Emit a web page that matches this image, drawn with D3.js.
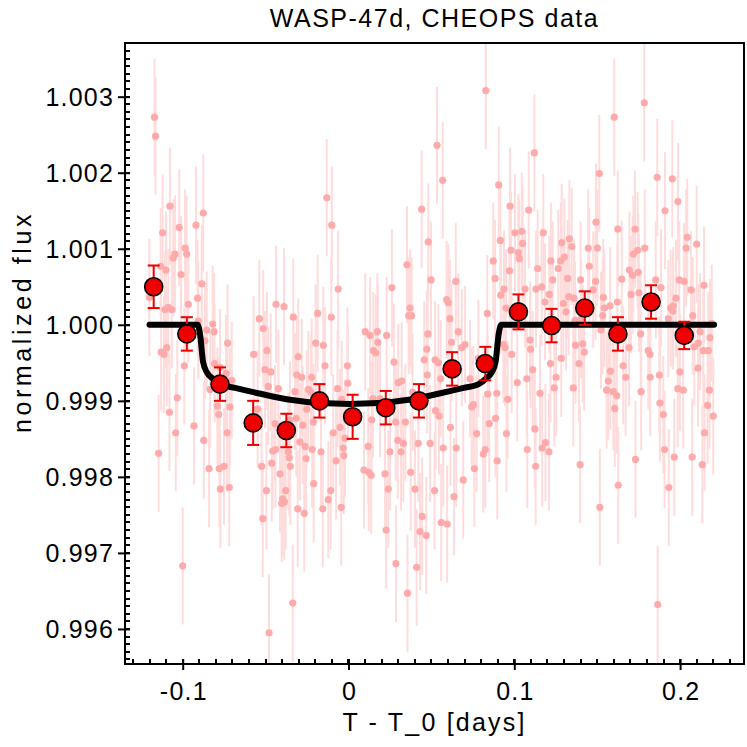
<!DOCTYPE html>
<html><head><meta charset="utf-8">
<script src="https://cdn.jsdelivr.net/npm/d3@7"></script>
<style>
body{margin:0;background:#fff}
svg{display:block}
text{font-family:"Liberation Sans",Arial,Helvetica,sans-serif;fill:#000}
</style>
</head><body>
<svg id="chart" width="747" height="747"></svg>
<script>
// ---------------- data ----------------
const rawTime = [
-0.1170,-0.1164,-0.1077,-0.0876,-0.1121,-0.1021,-0.0920,-0.0986,-0.0976,-0.1046,
-0.1057,-0.1133,-0.1101,-0.1010,-0.0885,-0.1201,-0.0910,-0.0966,-0.1087,-0.1107,
-0.1066,-0.0906,-0.0855,-0.0819,-0.0811,-0.0866,-0.0729,-0.1130,-0.1113,-0.1096,
-0.0990,-0.0808,-0.0775,-0.0739,-0.0704,-0.0835,-0.1033,-0.0715,-0.0791,-0.0783,
-0.1080,-0.0932,-0.1042,-0.0732,-0.0873,-0.1145,-0.0841,-0.0779,-0.0751,-0.0773,
-0.0719,-0.1000,
-0.0131,-0.0101,-0.0437,-0.0389,-0.0538,-0.0514,-0.0333,-0.0186,-0.0104,-0.0572,
-0.0492,-0.0303,-0.0198,-0.0152,-0.0504,-0.0469,-0.0142,-0.0484,-0.0423,-0.0312,
-0.0282,-0.0222,-0.0323,-0.0242,-0.0226,-0.0252,-0.0212,-0.0315,-0.0276,-0.0443,
-0.0353,-0.0548,-0.0092,-0.0457,-0.0440,-0.0363,-0.0293,-0.0262,-0.0219,-0.0166,
-0.0256,-0.0357,-0.0351,-0.0524,-0.0463,-0.0413,-0.0210,-0.0495,-0.0379,-0.0397,
-0.0403,-0.0387,-0.0306,-0.0267,-0.0155,-0.0122,-0.0107,-0.0517,-0.0336,-0.0479,
0.0441,0.0481,0.0353,-0.0062,0.0262,0.0371,0.0381,0.0363,0.0478,0.0101,
0.0130,0.0174,0.0230,0.0177,0.0150,0.0164,0.0472,-0.0007,0.0274,0.0457,
-0.0004,-0.0066,0.0300,0.0321,0.0475,0.0147,0.0190,0.0387,-0.0041,0.0140,
0.0285,0.0343,-0.0051,-0.0021,0.0119,0.0297,0.0331,0.0421,0.0492,-0.0031,
-0.0028,0.0250,0.0317,-0.0075,0.0093,0.0122,0.0137,0.0220,0.0240,0.0375,
0.0401,-0.0044,0.0444,0.0431,0.0469,0.0227,0.0286,0.0411,0.0356,
0.0828,0.0534,0.0568,0.0906,0.0974,0.1004,0.1045,0.0916,0.1050,0.1024,
0.1030,0.0980,0.0873,0.0971,0.0884,0.0498,0.0647,0.0938,0.0918,0.0592,
0.0602,0.0612,0.0837,0.0950,0.0662,0.0703,0.0683,0.0622,0.0944,0.0934,
0.0984,0.0522,0.0542,0.0783,0.0556,0.0733,0.1018,0.0840,0.0894,0.0743,
0.0753,0.0960,0.0525,0.0546,0.0887,0.0849,0.0615,0.0773,0.0953,0.0571,
0.0650,0.0825,0.0813,0.0897,0.0759,0.0692,0.0519,0.0636,0.0559,0.0595,
0.1603,0.1121,0.1513,0.1087,0.1493,0.1624,0.1175,0.1332,0.1346,0.1286,
0.1446,0.1501,0.1302,0.1280,0.1265,0.1221,0.1452,0.1141,0.1322,0.1232,
0.1400,0.1490,0.1065,0.1131,0.1165,0.1476,0.1211,0.1185,0.1328,0.1360,
0.1537,0.1622,0.1296,0.1312,0.1543,0.1577,0.1533,0.1366,0.1403,0.1523,
0.1369,0.1413,0.1422,0.1095,0.1098,0.1218,0.1283,0.1390,0.1111,0.1075,
0.1252,0.1580,0.1567,0.1241,0.1356,0.1557,0.1597,0.1618,0.1606,0.1155,
0.1124,0.1188,0.1168,0.1209,0.1078,0.1129,0.1397,0.1627,0.1516,
0.1784,0.1862,0.1953,0.1987,0.1909,0.1728,0.2043,0.2100,0.2036,0.1787,
0.1718,0.1744,0.1694,0.1748,0.1713,0.1648,0.1853,0.1995,0.2024,0.1885,
0.2144,0.2066,0.1704,0.1752,0.1975,0.1959,0.1943,0.1956,0.1929,0.2076,
0.1762,0.2120,0.2180,0.1692,0.1808,0.1818,0.2086,0.2110,0.2140,0.2170,
0.2191,0.1657,0.2108,0.1875,0.1820,0.1999,0.1672,0.1986,0.2019,0.1765,
0.2177,0.2166,0.2200,0.1878,0.1899,0.2147,0.1906,0.1965,0.2073,0.1731,
0.2134,0.1932,0.1865
];
const rawFlux = [
1.00273,1.00248,1.00156,1.00147,1.00121,1.00128,1.00131,1.00101,1.00093,1.00093,
1.00088,1.00077,1.00072,1.00066,1.00054,1.00036,1.00035,1.00027,1.00023,1.00020,
1.00020,1.00005,0.99993,1.00001,0.99991,0.99979,0.99976,0.99964,0.99961,0.99970,
0.99946,0.99949,0.99944,0.99936,0.99927,0.99915,0.99904,0.99892,0.99893,0.99882,
0.99885,0.99867,0.99858,0.99858,0.99848,0.99831,0.99811,0.99811,0.99814,0.99784,
0.99786,0.99683,
1.00167,1.00131,1.00027,1.00024,1.00008,0.99995,1.00010,1.00015,1.00010,0.99961,
0.99966,0.99958,0.99976,0.99973,0.99941,0.99938,0.99946,0.99919,0.99916,0.99934,
0.99931,0.99931,0.99912,0.99915,0.99911,0.99889,0.99872,0.99877,0.99868,0.99870,
0.99875,0.99889,0.99858,0.99834,0.99836,0.99833,0.99846,0.99840,0.99836,0.99833,
0.99824,0.99825,0.99814,0.99814,0.99818,0.99804,0.99791,0.99782,0.99782,0.99771,
0.99765,0.99767,0.99758,0.99752,0.99758,0.99770,0.99782,0.99745,0.99634,0.99595,
1.00152,1.00109,1.00079,1.00047,1.00049,1.00022,1.00012,1.00012,0.99988,0.99991,
0.99986,0.99991,0.99986,0.99977,0.99966,0.99963,0.99968,0.99946,0.99951,0.99954,
0.99923,0.99916,0.99924,0.99926,0.99934,0.99903,0.99903,0.99911,0.99902,0.99875,
0.99872,0.99872,0.99865,0.99851,0.99840,0.99848,0.99844,0.99844,0.99844,0.99838,
0.99828,0.99833,0.99833,0.99821,0.99809,0.99806,0.99802,0.99804,0.99784,0.99806,
0.99784,0.99760,0.99748,0.99728,0.99723,0.99730,0.99686,0.99681,0.99647,
1.00308,1.00236,1.00190,1.00184,1.00156,1.00121,1.00123,1.00111,1.00107,1.00095,
1.00087,1.00098,1.00084,1.00071,1.00061,1.00059,1.00057,1.00047,1.00039,1.00033,
1.00029,1.00008,1.00015,1.00022,0.99991,0.99974,0.99970,0.99977,0.99970,0.99974,
0.99961,0.99954,0.99950,0.99956,0.99929,0.99929,0.99924,0.99909,0.99910,0.99892,
0.99895,0.99902,0.99887,0.99880,0.99877,0.99870,0.99865,0.99857,0.99857,0.99838,
0.99838,0.99836,0.99830,0.99821,0.99811,0.99796,0.99782,0.99774,0.99740,0.99738,
1.00273,1.00226,1.00199,1.00151,1.00135,1.00126,1.00121,1.00113,1.00103,1.00108,
1.00101,1.00101,1.00089,1.00084,1.00074,1.00084,1.00077,1.00074,1.00061,1.00059,
1.00059,1.00057,1.00047,1.00047,1.00050,1.00046,1.00040,1.00030,1.00037,1.00035,
1.00036,1.00030,1.00028,1.00017,1.00022,1.00025,1.00012,1.00006,1.00007,0.99993,
0.99973,0.99975,0.99964,0.99980,0.99968,0.99949,0.99956,0.99949,0.99941,0.99929,
0.99931,0.99939,0.99926,0.99917,0.99917,0.99914,0.99912,0.99907,0.99890,0.99910,
0.99863,0.99845,0.99838,0.99833,0.99836,0.99814,0.99816,0.99789,0.99760,
1.00292,1.00194,1.00192,1.00162,1.00150,1.00126,1.00115,1.00106,1.00101,1.00101,
1.00093,1.00098,1.00072,1.00069,1.00065,1.00060,1.00059,1.00059,1.00057,1.00049,
1.00052,1.00046,1.00040,1.00042,1.00035,1.00025,1.00022,1.00018,1.00008,1.00012,
0.99988,0.99991,0.99983,0.99970,0.99966,0.99961,0.99971,0.99976,0.99966,0.99966,
1.00002,0.99946,0.99943,0.99934,0.99931,0.99938,0.99931,0.99916,0.99914,0.99912,
0.99914,0.99894,0.99880,0.99897,0.99882,0.99858,0.99836,0.99826,0.99826,0.99823,
0.99816,0.99786,0.99632
];
const rawErr = 0.00077;

const binTime = [-0.1175,-0.0975,-0.0775,-0.0575,-0.0375,-0.0175,0.0025,0.0225,0.0425,
                 0.0625,0.0825,0.1025,0.1225,0.1425,0.1625,0.1825,0.2025];
const binFlux = [1.00050,0.99988,0.99922,0.99871,0.99861,0.99900,0.99879,0.99891,0.99900,
                 0.99942,0.99949,1.00017,0.99999,1.00022,0.99988,1.00030,0.99986];
const binErr  = [0.00028,0.00022,0.00022,0.00029,0.00022,0.00022,0.00029,0.00022,0.00022,
                 0.00022,0.00022,0.00023,0.00022,0.00022,0.00022,0.00022,0.00018];

const modelTime = [-0.1200,-0.0910,-0.0895,-0.0877,-0.0853,-0.0823,-0.0775,-0.0684,-0.0545,
                   -0.0341,-0.0172,0.0005,0.0182,0.0351,0.0555,0.0694,0.0785,0.0833,0.0863,
                   0.0887,0.0905,0.0922,0.2205];
const modelFlux = [1.00000,1.00000,0.99987,0.99951,0.99937,0.99930,0.99922,0.99917,0.99910,
                   0.99901,0.99897,0.99896,0.99897,0.99901,0.99910,0.99917,0.99922,0.99930,0.99937,
                   0.99951,0.99987,1.00000,1.00000];

const yTicks = [0.996,0.997,0.998,0.999,1.000,1.001,1.002,1.003];
const yTickLabels = ["0.996","0.997","0.998","0.999","1.000","1.001","1.002","1.003"];
const xTicks = [-0.1,0,0.1,0.2];
const xTickLabels = ["-0.1","0","0.1","0.2"];
const titleText = "WASP-47d, CHEOPS data";
const xLabel = "T - T_0 [days]";
const yLabel = "normalized flux";

// ---------------- drawing ----------------
const L=125, R=744, T=43, B=664;
const x = d3.scaleLinear().domain([-0.13480, 0.23854]).range([L, R]);
const y = d3.scaleLinear().domain([0.995539, 1.003706]).range([B, T]);

const svg = d3.select("#chart");
svg.append("defs").append("clipPath").attr("id","clip")
  .append("rect").attr("x",L).attr("y",T).attr("width",R-L).attr("height",B-T);

const plot = svg.append("g").attr("clip-path","url(#clip)");
const raw = d3.range(rawTime.length).map(i=>({t:rawTime[i], f:rawFlux[i]}));

plot.append("g").selectAll("line").data(raw).join("line")
  .attr("x1",d=>x(d.t)).attr("x2",d=>x(d.t))
  .attr("y1",d=>y(d.f-rawErr)).attr("y2",d=>y(d.f+rawErr))
  .attr("stroke","#ffdcdc").attr("stroke-width",2);

plot.append("g").selectAll("circle").data(raw).join("circle")
  .attr("cx",d=>x(d.t)).attr("cy",d=>y(d.f)).attr("r",3.6)
  .attr("fill","#ffaaaa");

const model = d3.range(modelTime.length).map(i=>[modelTime[i], modelFlux[i]]);
plot.append("path").datum(model)
  .attr("d", d3.line().x(d=>x(d[0])).y(d=>y(d[1])).curve(d3.curveMonotoneX))
  .attr("fill","none").attr("stroke","#000").attr("stroke-width",6)
  .attr("stroke-linecap","round").attr("stroke-linejoin","round");

const bins = d3.range(binTime.length).map(i=>({t:binTime[i], f:binFlux[i], e:binErr[i]}));
const be = plot.append("g").attr("stroke","#ee0000").attr("stroke-width",2);
be.selectAll(".v").data(bins).join("line")
  .attr("x1",d=>x(d.t)).attr("x2",d=>x(d.t))
  .attr("y1",d=>y(d.f-d.e)).attr("y2",d=>y(d.f+d.e));
be.selectAll(".ct").data(bins).join("line")
  .attr("x1",d=>x(d.t)-6).attr("x2",d=>x(d.t)+6)
  .attr("y1",d=>y(d.f+d.e)).attr("y2",d=>y(d.f+d.e));
be.selectAll(".cb").data(bins).join("line")
  .attr("x1",d=>x(d.t)-6).attr("x2",d=>x(d.t)+6)
  .attr("y1",d=>y(d.f-d.e)).attr("y2",d=>y(d.f-d.e));

plot.append("g").selectAll("circle").data(bins).join("circle")
  .attr("cx",d=>x(d.t)).attr("cy",d=>y(d.f)).attr("r",9)
  .attr("fill","#ee0000").attr("stroke","#000").attr("stroke-width",1.6);

// minor ticks (inside)
const yMinor = d3.range(0,82).map(i=>+(0.9956+i*0.0001).toFixed(4)).filter(v=>v>=y.domain()[0]&&v<=y.domain()[1]);
const xMinor = d3.range(0,38).map(i=>+(-0.13+i*0.01).toFixed(2)).filter(v=>v>=x.domain()[0]&&v<=x.domain()[1]);
const tk = svg.append("g").attr("stroke","#000").attr("stroke-width",2);
tk.selectAll(".ym").data(yMinor).join("line")
  .attr("x1",L).attr("x2",L+5).attr("y1",d=>Math.round(y(d))).attr("y2",d=>Math.round(y(d)));
tk.selectAll(".xm").data(xMinor).join("line")
  .attr("y1",B).attr("y2",B-5).attr("x1",d=>Math.round(x(d))).attr("x2",d=>Math.round(x(d)));

// major axes
const yAxis = d3.axisLeft(y).tickValues(yTicks).tickFormat((d,i)=>yTickLabels[i])
  .tickSizeInner(7).tickSizeOuter(0).tickPadding(4);
const gy = svg.append("g").attr("transform",`translate(${L},0)`).call(yAxis);
gy.select(".domain").remove();
gy.selectAll(".tick line").attr("stroke","#000").attr("stroke-width",2).attr("x2",-7).attr("x1",5);
gy.selectAll(".tick text").attr("font-size",25).attr("font-family",null)
  .attr("letter-spacing",1.2).attr("dy","0.35em");

const xAxis = d3.axisBottom(x).tickValues(xTicks).tickFormat((d,i)=>xTickLabels[i])
  .tickSizeInner(6).tickSizeOuter(0).tickPadding(12);
const gx = svg.append("g").attr("transform",`translate(0,${B})`).call(xAxis);
gx.select(".domain").remove();
gx.selectAll(".tick line").attr("stroke","#000").attr("stroke-width",2).attr("y1",-5).attr("y2",6);
gx.selectAll(".tick text").attr("font-size",25).attr("font-family",null)
  .attr("letter-spacing",1.2).attr("dx","0.6");

// frame
svg.append("rect").attr("x",L).attr("y",T).attr("width",R-L).attr("height",B-T)
  .attr("fill","none").attr("stroke","#000").attr("stroke-width",2);

// labels
svg.append("text").attr("x",(L+R)/2).attr("y",27).attr("text-anchor","middle")
  .attr("font-size",25).attr("letter-spacing",1.5).text(titleText);
svg.append("text").attr("x",(L+R)/2).attr("y",731).attr("text-anchor","middle")
  .attr("font-size",25).attr("letter-spacing",2.2).text(xLabel);
svg.append("text").attr("transform",`translate(31,322) rotate(-90)`)
  .attr("text-anchor","middle").attr("font-size",25).attr("letter-spacing",3.6).text(yLabel);
</script>
</body></html>
